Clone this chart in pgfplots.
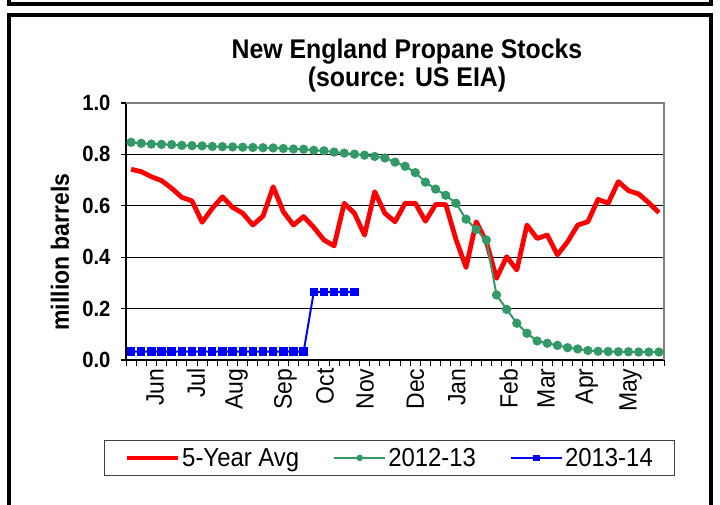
\documentclass[border=0pt]{standalone}
\usepackage{fontspec}
\setmainfont{Liberation Sans}[FakeStretch=0.92]
\usepackage{pgfplots}
\usepackage{pgfplotstable}
\pgfplotsset{compat=1.18}
\definecolor{sgreen}{RGB}{51,153,102}

\pgfplotstableread{
x y
0.5 0.742
1.5 0.733
2.5 0.713
3.5 0.698
4.5 0.668
5.5 0.633
6.5 0.619
7.5 0.536
8.5 0.590
9.5 0.635
10.5 0.594
11.5 0.571
12.5 0.525
13.5 0.560
14.5 0.674
15.5 0.577
16.5 0.525
17.5 0.558
18.5 0.516
19.5 0.467
20.5 0.444
21.5 0.610
22.5 0.571
23.5 0.486
24.5 0.655
25.5 0.571
26.5 0.538
27.5 0.610
28.5 0.610
29.5 0.540
30.5 0.605
31.5 0.605
32.5 0.470
33.5 0.360
34.5 0.538
35.5 0.460
36.5 0.318
37.5 0.402
38.5 0.350
39.5 0.525
40.5 0.473
41.5 0.486
42.5 0.409
43.5 0.460
44.5 0.525
45.5 0.538
46.5 0.625
47.5 0.610
48.5 0.694
49.5 0.659
50.5 0.646
51.5 0.612
52.5 0.573
}\avgtable

\pgfplotstableread{
x y
0.5 0.847
1.5 0.843
2.5 0.840
3.5 0.839
4.5 0.838
5.5 0.835
6.5 0.834
7.5 0.833
8.5 0.831
9.5 0.830
10.5 0.829
11.5 0.828
12.5 0.827
13.5 0.826
14.5 0.825
15.5 0.823
16.5 0.821
17.5 0.820
18.5 0.816
19.5 0.814
20.5 0.809
21.5 0.805
22.5 0.801
23.5 0.797
24.5 0.792
25.5 0.786
26.5 0.770
27.5 0.754
28.5 0.729
29.5 0.692
30.5 0.665
31.5 0.641
32.5 0.610
33.5 0.548
34.5 0.508
35.5 0.467
36.5 0.253
37.5 0.197
38.5 0.143
39.5 0.104
40.5 0.074
41.5 0.065
42.5 0.057
43.5 0.048
44.5 0.043
45.5 0.037
46.5 0.034
47.5 0.033
48.5 0.032
49.5 0.032
50.5 0.031
51.5 0.031
52.5 0.031
}\greentable

\pgfplotstableread{
x y
0.5 0.033
1.5 0.033
2.5 0.033
3.5 0.033
4.5 0.033
5.5 0.033
6.5 0.033
7.5 0.033
8.5 0.033
9.5 0.033
10.5 0.033
11.5 0.033
12.5 0.033
13.5 0.033
14.5 0.033
15.5 0.033
16.5 0.033
17.5 0.033
18.5 0.265
19.5 0.265
20.5 0.265
21.5 0.265
22.5 0.265
}\bluetable

\begin{document}
\begin{tikzpicture}[x=1pt,y=1pt]
% frame decorations
\draw[line width=3.5pt] (9,508) -- (9,501) -- (711,501) -- (711,508);
\draw[line width=3.5pt] (9,-5) -- (9,490) -- (711,490) -- (711,-5);
% title
\node[font=\fontsize{27}{30}\bfseries\selectfont, anchor=base] at (407,446) {New England Propane Stocks};
\node[font=\fontsize{27}{30}\bfseries\selectfont, anchor=base] at (407,418) {(source: US EIA)};
% y label
\node[font=\fontsize{25}{25}\bfseries\selectfont, rotate=90] at (60,253) {million barrels};
\begin{axis}[
  at={(126pt,145pt)}, anchor=south west,
  scale only axis, width=538pt, height=257pt,
  xmin=0, xmax=53, ymin=0, ymax=1,
  axis x line*=bottom, axis y line*=left,
  axis line style={black, line width=1.6pt, -},
  ytick={0,0.2,0.4,0.6,0.8,1.0},
  yticklabel={\pgfmathprintnumber[fixed,fixed zerofill,precision=1]{\tick}},
  /pgf/number format/assume math mode=true,
  yticklabel style={font=\fontsize{22}{22}\bfseries\selectfont, xshift=-7pt},
  ymajorgrids, grid style={black, line width=0.9pt},
  tick align=outside,
  major tick length=5pt,
  ytick style={black, line width=1.2pt},
  xtick={2.86,6.9,10.9,15.7,19.6,23.55,28.5,32.6,37.7,41.4,45.4,49.7},
  xticklabels={Jun,Jul,Aug,Sep,Oct,Nov,Dec,Jan,Feb,Mar,Apr,May},
  major x tick style={draw=none},
  minor xtick={0,1,...,53},
  minor tick length=6pt,
  minor x tick style={black, line width=1pt},
  xticklabel style={rotate=90, anchor=east, font=\fontsize{25}{25}\selectfont},
  legend columns=3,
  legend style={at={(0.49,-0.381)}, anchor=center, draw=black!75, line width=0.8pt,
    font=\fontsize{26}{26}\selectfont,
    /tikz/every even column/.append style={column sep=32pt},
    inner xsep=20pt, inner ysep=6pt},
  legend image code/.code={\draw[mark repeat=2,mark phase=2,#1] plot coordinates {(0pt,0pt) (25.5pt,0pt) (51pt,0pt)};},
  clip=false,
]
\draw[gray, line width=1.2pt] (rel axis cs:0,1) -- (rel axis cs:1,1) -- (rel axis cs:1,0);
\addplot[red, line width=4.8pt, line join=round, forget plot] table[x=x,y=y] {\avgtable};
\addplot[sgreen, line width=2pt, mark=*, mark size=3.6pt, mark options={solid, fill=sgreen, draw=sgreen}, forget plot] table[x=x,y=y] {\greentable};
\addplot[blue, line width=2pt, mark=square*, mark size=3.2pt, mark options={solid, fill=blue, draw=blue}, forget plot] table[x=x,y=y] {\bluetable};
\addlegendimage{red, line width=4.8pt}
\addlegendentry{5-Year Avg}
\addlegendimage{sgreen, line width=2pt, mark=*, mark size=2.2pt, mark options={fill=sgreen}}
\addlegendentry{2012-13}
\addlegendimage{blue, line width=2pt, mark=square*, mark size=2.2pt, mark options={fill=blue}}
\addlegendentry{2013-14}
\end{axis}
\pgfresetboundingbox
\useasboundingbox (0,0) rectangle (720,505);
\end{tikzpicture}
\end{document}
